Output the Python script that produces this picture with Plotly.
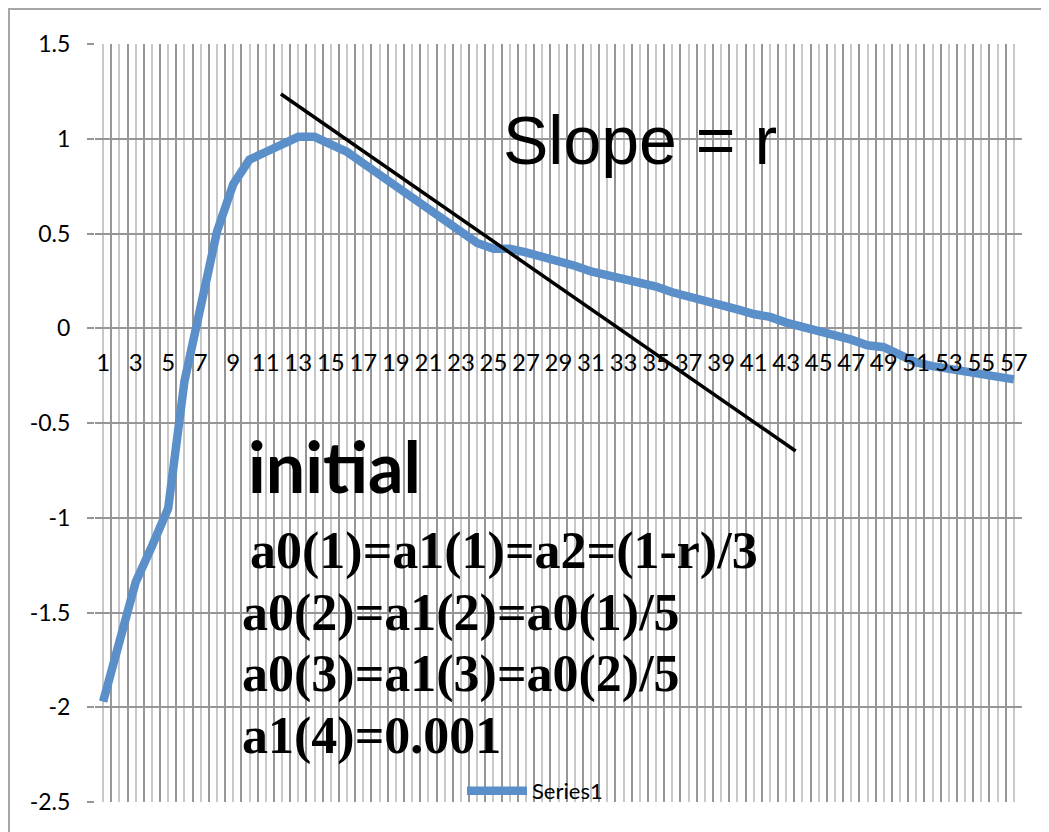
import plotly.graph_objects as go

# data
categories = list(range(1, 58))
series1 = [-1.97, -1.64, -1.34, -1.15, -0.95, -0.28, 0.13, 0.51, 0.76, 0.89,
           0.93, 0.97, 1.01, 1.01, 0.97, 0.93, 0.87, 0.81, 0.75, 0.69,
           0.62, 0.56, 0.51, 0.45, 0.42, 0.42, 0.40, 0.38, 0.36, 0.33,
           0.30, 0.28, 0.26, 0.245, 0.22, 0.19, 0.17, 0.14, 0.13, 0.10,
           0.075, 0.06, 0.03, 0.01, -0.02, -0.03, -0.06, -0.09, -0.10, -0.14,
           -0.18, -0.20, -0.215, -0.23, -0.25, -0.26, -0.27]
x_labels = [str(c) if c % 2 else '' for c in categories]
y_ticks = [-2.5, -2, -1.5, -1, -0.5, 0, 0.5, 1, 1.5]
y_labels = ['-2.5', '-2', '-1.5', '-1', '-0.5', '0', '0.5', '1', '1.5']

formula_lines = ['a0(1)=a1(1)=a2=(1-r)/3', 'a0(2)=a1(2)=a0(1)/5',
                 'a0(3)=a1(3)=a0(2)/5', 'a1(4)=0.001']

# the page body adds an 8px margin, so work in page pixels and subtract it
OFF = 8
W, H = 1049, 832
pw, ph = 927, 758
L, T = 95 - OFF, 44 - OFF
R, B = W - L - pw, H - T - ph


def px(x):
    return (x - OFF - L) / pw


def py(y):
    return (T + ph - (y - OFF)) / ph


DARK = '#969696'
LIGHT = '#C8C8C8'

fig = go.Figure(go.Scatter(x=categories, y=series1, mode='lines', name='Series1',
                           line=dict(color='#5B8FC9', width=8.5)))

fig.update_layout(
    width=W, height=H,
    margin=dict(l=L, r=R, t=T, b=B, autoexpand=False),
    paper_bgcolor='white', plot_bgcolor='white',
    font=dict(family='Lato', color='black'),
    showlegend=True,
    legend=dict(orientation='h', x=px(535), xanchor='center', y=py(791), yanchor='middle',
                bgcolor='rgba(0,0,0,0)', itemwidth=60,
                font=dict(family='Lato', size=22, color='black')),
)

fig.update_xaxes(
    range=[0.5, 57.5], tickmode='array', tickvals=categories, ticktext=x_labels,
    showgrid=True, gridcolor=LIGHT, gridwidth=2,
    minor=dict(tickmode='array', tickvals=[c - 0.5 for c in categories] + [57.5],
               showgrid=True, gridcolor=DARK, gridwidth=2),
    anchor='free', position=2.5 / 4, ticks='', ticklabelstandoff=18, tickangle=0,
    tickfont=dict(family='Lato', size=24, color='black'),
    zeroline=False, showline=False, automargin=False,
)
fig.update_yaxes(
    range=[-2.5, 1.5], tickmode='array', tickvals=y_ticks, ticktext=y_labels,
    showgrid=True, gridcolor=DARK, gridwidth=2,
    ticks='outside', ticklen=7, tickwidth=2, tickcolor=DARK, ticklabelstandoff=12,
    tickfont=dict(family='Lato', size=23, color='black'),
    zeroline=False, showline=False, automargin=False,
)

# chart border and tangent line
fig.add_shape(type='rect', xref='paper', yref='paper',
              x0=px(9), x1=px(1070), y0=py(850), y1=py(9),
              line=dict(color='#A6A6A6', width=2))
fig.add_shape(type='line', xref='x', yref='y', x0=11.93, y0=1.236, x1=43.58, y1=-0.648,
              line=dict(color='black', width=3.5))

fig.add_annotation(text='Slope = r', xref='paper', yref='paper', x=px(640), y=py(140),
                   xanchor='center', yanchor='middle', showarrow=False,
                   font=dict(family='Liberation Sans, Arial', size=68, color='black'))
fig.add_annotation(text='<b>initial</b>', xref='paper', yref='paper', x=px(246), y=py(466),
                   xanchor='left', yanchor='middle', showarrow=False,
                   font=dict(family='Lato', size=70, color='black'))
for i, (line, x0) in enumerate(zip(formula_lines, [248, 240, 240, 240])):
    fig.add_annotation(text='<b>' + line + '</b>', xref='paper', yref='paper',
                       x=px(x0), y=py(551 + 61.5 * i), xanchor='left', yanchor='middle',
                       showarrow=False,
                       font=dict(family='Liberation Serif, Times New Roman', size=52, color='black'))

fig.write_html('out.html')
